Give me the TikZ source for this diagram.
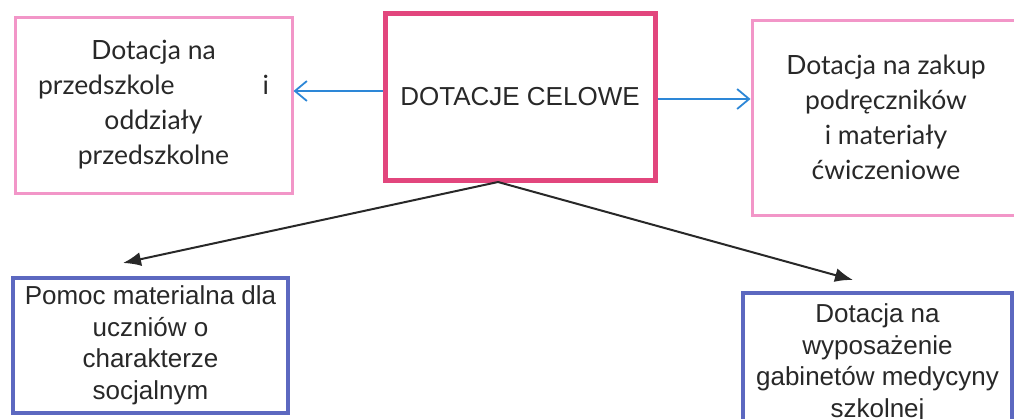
\documentclass[tikz,border=0pt]{standalone}
\usepackage{fontspec}
\setmainfont{Liberation Sans}
\newfontfamily\humfont{Lato}
\usetikzlibrary{arrows.meta}
\definecolor{lpink}{RGB}{242,150,200}
\definecolor{dpink}{RGB}{226,70,125}
\definecolor{bbox}{RGB}{92,104,192}
\definecolor{barrow}{RGB}{45,135,215}
\definecolor{txt}{RGB}{40,40,40}
\begin{document}
\begin{tikzpicture}[x=1pt,y=-1pt,
  box/.style={draw, inner sep=0pt, align=center, text=txt},
  topbox/.style={box, draw=lpink, line width=3pt, font={\humfont\fontsize{26.5pt}{35pt}\selectfont}},
  mainbox/.style={box, draw=dpink, line width=5pt, font={\fontsize{26pt}{31pt}\selectfont}},
  botbox/.style={box, draw=bbox, line width=3.5pt, font={\fontsize{26pt}{31.5pt}\selectfont}},
  bluearrow/.style={draw=barrow, line width=1.8pt, -{Straight Barb[length=12pt,width=20pt,line width=1.8pt]}},
  blackarrow/.style={draw=txt, line width=2pt, -{Latex[length=18pt,width=14pt]}}
]
\useasboundingbox (0,0) rectangle (1014,418);
\clip (0,0) rectangle (1014,418);
\fill[white] (0,0) rectangle (1014,418);

\node[topbox, minimum width=277pt, minimum height=176pt] (b1) at (153.5,105)
  {Dotacja na\\ \makebox[231pt]{przedszkole\hfill i}\\ oddziały\\ przedszkolne};
\node[mainbox, minimum width=270pt, minimum height=167pt] (b2) at (520,96.5)
  {DOTACJE CELOWE};
\node[topbox, minimum width=268pt, minimum height=195pt] (b3) at (886,117.5)
  {Dotacja na zakup\\ podręczników\\ i materiały\\ ćwiczeniowe};
\node[botbox, minimum width=275pt, minimum height=135pt] (b4) at (150.5,345.5)
  {Pomoc materialna dla\\ uczniów o\\ charakterze\\ socjalnym};
\node[botbox, minimum width=269pt, minimum height=141pt] (b5) at (877.5,363.5)
  {Dotacja na\\ wyposażenie\\ gabinetów medycyny\\ szkolnej};

\draw[bluearrow] (b2.west |- 0,91) -- (b1.east |- 0,91);
\draw[bluearrow] (b2.east |- 0,99) -- (b3.west |- 0,99);

\coordinate (split) at (498,182);
\coordinate (tipL) at (123,263);
\coordinate (tipR) at (853,280);
\draw[blackarrow] (split) -- (tipL);
\draw[blackarrow] (split) -- (tipR);
\end{tikzpicture}
\end{document}
